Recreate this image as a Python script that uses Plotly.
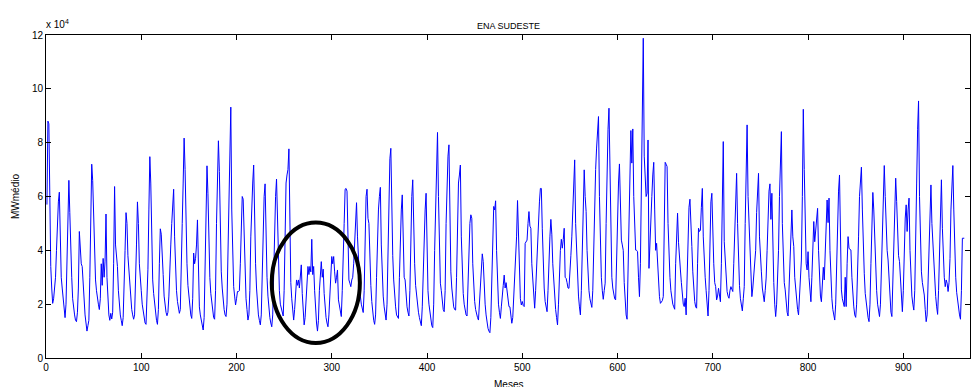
import plotly.graph_objects as go

# ENA Sudeste, monthly values in units of 10^4 MWmed
ena_block1 = [
    5.7, 8.8, 8.7, 5.5, 3.4, 2.6, 2.03, 2.2, 2.5, 3.0, 4.0, 5.0,
    5.8, 6.16, 4.5, 3.0, 2.6, 2.1, 1.8, 1.5, 2.0, 3.3, 5.0, 6.6,
    5.4, 3.8, 3.0, 2.2, 1.8, 1.6, 1.4, 1.35, 1.7, 2.6, 4.7, 4.0,
    3.5, 3.4, 2.6, 2.0, 1.6, 1.3, 1.0, 1.2, 1.4, 3.0, 5.0, 7.2,
    6.6, 5.5, 3.8, 2.9, 2.5, 2.1, 2.0, 1.8, 2.2, 3.5, 2.7, 3.7,
    3.0, 3.6, 5.35, 3.0, 2.0, 1.6, 1.4, 1.66, 1.45, 1.7, 3.5, 6.37,
    4.2, 3.77, 3.4, 2.5, 2.0, 1.6, 1.4, 1.2, 1.5, 2.5, 4.0, 5.4,
    5.0, 3.8, 3.3, 2.6, 2.1, 1.8, 1.6, 1.44, 1.6, 2.6, 4.2, 5.8,
    5.0, 3.5, 2.78, 2.5, 2.0, 1.7, 1.5, 1.3, 1.25, 2.0, 3.3, 5.5,
    7.48, 6.5, 4.0, 2.9, 2.4, 2.0, 1.7, 1.4, 1.25, 1.8, 3.5, 4.8,
]
ena_block2 = [
    4.6, 3.4, 3.1, 2.3, 1.9, 1.7, 1.57, 1.7, 2.3, 3.8, 4.2, 5.0,
    5.5, 6.27, 4.5, 2.96, 2.5, 2.1, 1.8, 1.66, 1.8, 3.0, 5.0, 6.5,
    8.17, 7.0, 5.0, 3.5, 2.7, 2.2, 1.8, 1.6, 1.47, 2.2, 3.9, 3.5,
    3.7, 4.2, 5.13, 3.2, 1.9, 1.6, 1.4, 1.2, 1.04, 1.5, 3.0, 5.0,
    7.14, 6.1, 4.2, 3.0, 2.4, 2.0, 1.7, 1.5, 1.44, 2.5, 5.0, 7.0,
    8.07, 6.93, 4.5, 3.2, 2.6, 2.1, 1.8, 1.6, 1.54, 2.0, 4.0, 6.0,
    7.0, 9.32, 5.5, 4.0, 2.65, 2.3, 1.97, 2.2, 2.47, 2.47, 2.5, 3.5,
    5.5, 6.0, 5.9, 4.5, 3.0, 2.2, 1.8, 1.41, 1.6, 2.5, 4.5, 6.0,
    6.5, 7.17, 5.0, 3.5, 2.6, 2.0, 1.6, 1.4, 1.23, 1.6, 3.5, 5.5,
    6.0, 6.47, 4.5, 3.0, 2.3, 1.8, 1.5, 1.3, 1.16, 1.6, 3.5, 5.0,
]
ena_block3 = [
    6.0, 6.65, 4.8, 3.2, 2.5, 2.0, 1.8, 1.6, 1.56, 2.5, 4.5, 6.5,
    6.8, 7.0, 7.77, 4.0, 2.8, 2.2, 1.7, 1.41, 1.8, 2.53, 2.9, 2.7,
    2.9, 2.6, 3.0, 3.46, 2.4, 1.6, 1.23, 1.5, 2.0, 2.8, 3.4, 3.1,
    3.4, 3.2, 4.41, 3.1, 3.4, 2.5, 1.8, 1.3, 1.0, 1.4, 2.5, 3.0,
    3.58, 3.0, 3.3, 2.4, 1.8, 1.5, 1.3, 1.16, 1.6, 2.5, 3.3, 3.77,
    3.5, 3.77, 3.2, 2.78, 3.0, 3.27, 2.16, 1.9, 1.7, 1.54, 2.5, 4.5,
    5.0, 6.27, 6.3, 6.2, 4.0, 2.9, 2.78, 2.65, 2.9, 3.0, 3.5, 4.5,
    5.0, 5.77, 4.5, 3.5, 2.8, 2.3, 2.0, 1.8, 1.69, 2.5, 4.5, 6.0,
    6.27, 5.19, 5.0, 3.5, 2.7, 2.1, 1.7, 1.4, 1.25, 1.6, 3.0, 4.8,
    5.5, 6.0, 6.34, 4.2, 3.0, 2.3, 1.9, 1.6, 1.41, 2.0, 4.0, 6.5,
]
ena_block4 = [
    7.4, 7.79, 5.5, 3.8, 2.9, 2.3, 1.9, 1.6, 1.5, 1.47, 3.0, 5.0,
    5.5, 6.06, 4.5, 3.0, 2.9, 2.3, 1.9, 1.7, 1.56, 2.5, 4.5, 6.0,
    6.62, 4.8, 3.5, 2.7, 2.3, 2.0, 1.7, 1.5, 1.3, 1.2, 1.9, 3.5,
    4.5, 5.5, 6.12, 3.5, 2.5, 2.0, 1.7, 1.4, 1.2, 1.13, 2.0, 4.0,
    5.5, 7.0, 8.38, 6.0, 3.5, 2.78, 2.5, 2.1, 1.8, 1.72, 2.5, 5.0,
    6.5, 7.5, 7.92, 5.0, 3.2, 2.6, 2.2, 1.9, 1.8, 1.78, 3.0, 5.5,
    6.5, 6.8, 7.17, 4.5, 3.0, 2.4, 2.0, 1.8, 1.6, 1.56, 3.0, 4.5,
    5.0, 5.32, 5.19, 3.5, 2.6, 2.1, 1.8, 1.6, 1.5, 1.41, 2.0, 3.0,
    3.6, 3.87, 3.58, 2.6, 2.0, 1.6, 1.3, 1.1, 1.0, 0.94, 1.5, 3.0,
    4.5, 5.63, 5.5, 5.84, 4.0, 2.7, 2.0, 1.7, 1.47, 1.9, 2.5, 2.7,
]
ena_block5 = [
    3.08, 2.6, 2.8, 2.47, 2.2, 1.91, 1.9, 1.5, 1.29, 1.5, 2.2, 3.0,
    3.8, 4.5, 5.85, 4.5, 3.0, 2.2, 1.97, 2.1, 1.95, 1.91, 4.26, 4.3,
    4.38, 5.0, 5.44, 4.9, 4.82, 3.5, 2.78, 2.2, 1.85, 2.5, 3.5, 4.5,
    5.0, 5.8, 6.3, 6.3, 4.8, 3.4, 2.6, 2.1, 1.85, 1.72, 2.5, 3.8,
    4.5, 5.15, 4.6, 3.5, 2.8, 2.3, 1.8, 1.5, 1.23, 2.0, 3.5, 4.0,
    4.41, 4.08, 4.4, 4.82, 3.0, 2.96, 2.8, 2.6, 2.59, 3.08, 3.8, 4.5,
    5.5, 6.5, 7.36, 5.0, 4.0, 3.0, 2.3, 1.9, 1.6, 2.5, 4.5, 6.0,
    6.99, 6.0, 5.44, 4.0, 3.0, 2.5, 2.2, 2.0, 1.88, 2.5, 4.5, 6.5,
    7.0, 7.8, 8.5, 8.97, 6.0, 4.0, 3.0, 2.5, 2.18, 2.5, 2.78, 5.0,
    7.0, 8.5, 9.28, 6.5, 4.0, 3.0, 2.6, 2.3, 2.2, 2.16, 4.0, 6.0,
]
ena_block6 = [
    6.5, 7.21, 5.5, 4.38, 4.2, 4.0, 2.8, 2.0, 1.6, 1.44, 3.0, 5.5,
    7.0, 8.45, 7.24, 8.51, 6.0, 4.5, 4.01, 4.0, 3.95, 3.0, 2.28, 3.5,
    6.0, 9.0, 11.88, 7.5, 6.5, 6.0, 6.12, 8.1, 3.33, 4.5, 5.13, 6.0,
    6.8, 7.27, 5.5, 4.0, 4.26, 3.5, 2.6, 2.28, 2.03, 2.1, 2.13, 2.28,
    5.0, 7.27, 7.2, 7.11, 5.0, 3.64, 3.0, 2.5, 2.2, 2.0, 1.9, 1.81,
    3.5, 5.0, 5.38, 4.3, 3.5, 3.27, 2.8, 2.28, 2.0, 1.91, 2.22, 1.6,
    3.0, 4.5, 5.6, 5.9, 4.5, 4.14, 3.2, 2.5, 2.1, 1.9, 1.85, 3.5,
    4.82, 4.7, 4.75, 5.6, 6.3, 4.5, 3.5, 3.0, 2.5, 2.0, 1.56, 2.5,
    4.5, 5.8, 6.12, 4.5, 3.5, 2.8, 2.65, 2.16, 2.3, 2.59, 2.3, 2.09,
    3.5, 5.5, 8.04, 4.32, 3.5, 2.8, 2.47, 2.3, 2.22, 2.5, 2.65, 2.55,
]
ena_block7 = [
    2.47, 3.5, 5.0, 6.5, 6.86, 5.0, 3.5, 2.7, 2.2, 1.9, 1.75, 2.2,
    2.65, 5.0, 7.5, 8.66, 6.0, 5.07, 3.5, 2.6, 2.28, 2.6, 3.1, 3.27,
    4.0, 5.4, 6.0, 6.86, 4.5, 3.5, 3.2, 2.6, 2.3, 2.09, 2.5, 2.97,
    4.0, 5.5, 6.2, 6.47, 5.15, 6.12, 4.0, 2.8, 2.0, 1.54, 2.0, 2.8,
    4.0, 6.0, 7.5, 8.41, 5.0, 3.5, 2.8, 2.53, 2.0, 1.7, 1.56, 2.55,
    3.5, 4.5, 5.5, 4.5, 4.14, 3.0, 2.53, 2.1, 1.8, 1.6, 2.5, 3.3,
    3.64, 6.0, 9.24, 7.0, 4.5, 3.5, 3.27, 3.95, 3.0, 2.4, 2.09, 3.0,
    4.5, 5.07, 4.32, 4.8, 5.4, 5.56, 4.0, 2.9, 2.3, 2.09, 3.0, 3.37,
    2.9, 4.0, 5.2, 5.87, 5.03, 5.94, 4.0, 2.78, 2.2, 1.8, 1.5, 1.41,
    2.0, 3.5, 5.0, 6.2, 6.8, 4.5, 2.53, 2.2, 2.0, 1.91, 3.0, 1.91,
]
ena_block8 = [
    3.5, 4.51, 4.07, 4.05, 4.01, 3.0, 2.3, 1.9, 1.6, 1.51, 2.0, 3.0,
    4.5, 6.0, 6.8, 7.09, 5.5, 4.0, 3.15, 2.4, 2.0, 1.7, 1.5, 1.35,
    2.0, 3.5, 5.5, 6.15, 5.5, 4.2, 3.27, 2.5, 2.0, 1.7, 1.54, 2.0,
    3.5, 5.0, 6.5, 7.15, 6.0, 4.8, 4.0, 3.64, 2.8, 2.0, 1.7, 1.54,
    2.8, 4.5, 6.2, 6.68, 5.81, 4.5, 3.8, 3.58, 2.8, 2.1, 1.72, 2.5,
    4.0, 5.2, 5.69, 4.7, 5.5, 5.94, 4.0, 2.78, 2.3, 2.0, 1.78, 2.5,
    4.0, 6.5, 8.5, 9.55, 6.0, 4.0, 3.2, 2.8, 2.5, 2.34, 1.8, 1.35,
    1.6, 3.0, 4.5, 5.8, 6.43, 5.0, 4.2, 3.64, 2.9, 2.28, 1.9, 1.62,
    2.5, 4.0, 5.5, 6.62, 4.82, 3.5, 3.0, 2.65, 2.9, 2.78, 2.47, 2.8,
    3.7, 5.5, 6.8, 7.15, 5.5, 4.0, 3.0, 2.44, 2.1, 1.8, 1.6, 1.44,
]
ena_tail = [2.5, 4.45, 4.45, 4.45]

x_ticks = [0, 100, 200, 300, 400, 500, 600, 700, 800, 900]
y_ticks = [0, 2, 4, 6, 8, 10, 12]

# highlighted dry period (ellipse drawn around it, in data units)
ellipse_x = [237, 329.5]
ellipse_y = [0.56, 5.03]

ena = (ena_block1 + ena_block2 + ena_block3 + ena_block4 +
       ena_block5 + ena_block6 + ena_block7 + ena_block8 + ena_tail)
months = list(range(1, len(ena) + 1))

FONT = "Liberation Sans, Arial, Helvetica, sans-serif"

fig = go.Figure()
fig.add_trace(go.Scatter(x=months, y=ena, mode="lines",
                         line=dict(color="#0000ff", width=1),
                         hoverinfo="x+y", showlegend=False))

fig.add_shape(type="circle", xref="x", yref="y",
              x0=ellipse_x[0], x1=ellipse_x[1], y0=ellipse_y[0], y1=ellipse_y[1],
              line=dict(color="black", width=4))

axis_common = dict(showline=True, linecolor="black", linewidth=1, mirror="ticks",
                   ticks="inside", ticklen=5, tickcolor="black", tickwidth=1,
                   showgrid=False, zeroline=False, automargin=False,
                   tickfont=dict(family=FONT, size=10, color="black"))

fig.update_xaxes(range=[0, 970], tickmode="array", tickvals=x_ticks,
                 ticktext=[str(v) for v in x_ticks], **axis_common)
fig.update_yaxes(range=[0, 12], tickmode="array", tickvals=y_ticks,
                 ticktext=[str(v) for v in y_ticks], **axis_common)

fig.add_annotation(text="ENA SUDESTE", xref="paper", yref="paper", x=0.5, y=1.027,
                   showarrow=False, yanchor="middle", xanchor="center",
                   font=dict(family=FONT, size=9, color="black"))
fig.add_annotation(text="x 10<sup>4</sup>", xref="paper", yref="paper", x=-0.002, y=1.035,
                   showarrow=False, yanchor="middle", xanchor="left",
                   font=dict(family=FONT, size=10, color="black"))
fig.add_annotation(text="Meses", xref="paper", yref="paper", x=0.5, y=-0.082,
                   showarrow=False, yanchor="middle", xanchor="center",
                   font=dict(family=FONT, size=10, color="black"))
fig.add_annotation(text="MWmédio", xref="paper", yref="paper", x=-0.033, y=0.5,
                   showarrow=False, textangle=-90, yanchor="middle", xanchor="center",
                   font=dict(family=FONT, size=10, color="black"))

fig.update_layout(width=973, height=387,
                  margin=dict(l=46, r=3, t=35, b=29),
                  paper_bgcolor="white", plot_bgcolor="white")

fig.write_html("out.html", config={"displayModeBar": False},
               post_script="document.body.style.margin='0';document.body.style.overflow='hidden';")
